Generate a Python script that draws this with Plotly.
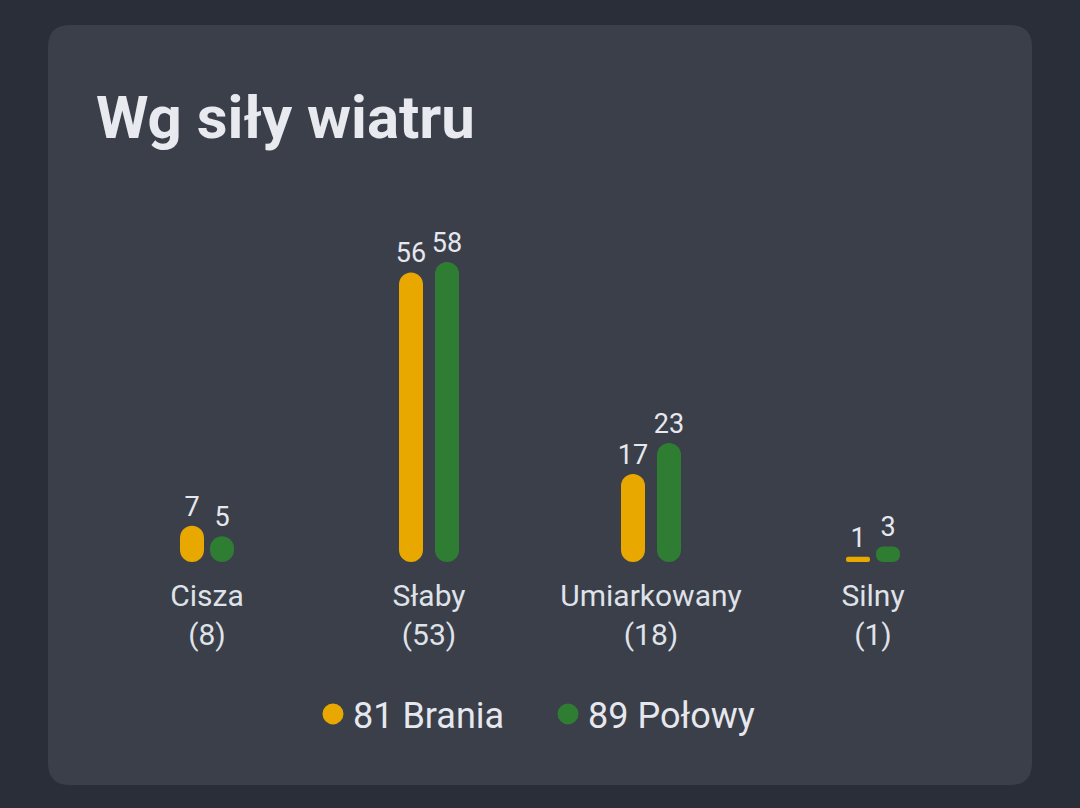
import plotly.graph_objects as go

# data
categories = ["Cisza", "Słaby", "Umiarkowany", "Silny"]
counts = [8, 53, 18, 1]
brania = [7, 56, 17, 1]
polowy = [5, 58, 23, 3]
series_names = ["81 Brania", "89 Połowy"]

YELLOW = "#e8a800"
GREEN = "#2e7d32"
CARD = "#3a3f4a"
OUTER = "#2a2e38"
TEXT = "#e6e8ee"
FONT = "Roboto"

W, H = 1080, 808
ML, MR, MT, MB = 96, 96, 200, 246
PW, PH = W - ML - MR, H - MT - MB
BAND = PW / len(categories)    # px per category
BAR_PX = 24
PAIR_GAP_PX = [6, 12, 12, 6]   # gap between the two bars of each group

tick_text = [f"{c}<br>({n})" for c, n in zip(categories, counts)]

bar_w = BAR_PX / BAND
left_off = [-(g / 2 + BAR_PX) / BAND for g in PAIR_GAP_PX]
right_off = [(g / 2) / BAND for g in PAIR_GAP_PX]

fig = go.Figure()

# base=0 given explicitly -> plotly rounds both ends of each bar
for name, vals, color, off in [(series_names[0], brania, YELLOW, left_off),
                                (series_names[1], polowy, GREEN, right_off)]:
    fig.add_trace(go.Bar(
        x=categories, y=vals, base=[0] * len(vals),
        width=bar_w, offset=off,
        marker=dict(color=color, line=dict(width=0)),
        text=[str(v) for v in vals], textposition="outside",
        constraintext="none", cliponaxis=False,
        textfont=dict(family=FONT, size=27, color=TEXT),
        showlegend=False, hoverinfo="skip",
    ))
    # legend entry with a round marker
    fig.add_trace(go.Scatter(
        x=[None], y=[None], mode="markers", name=name,
        marker=dict(symbol="circle", size=16, color=color,
                    line=dict(width=5, color=color)),
    ))

# card background as rounded rectangle (paper coords)
def px_x(p):
    return (p - ML) / PW

def px_y(p):
    return (H - MB - p) / PH

x0, x1 = px_x(48), px_x(1032)
y0, y1 = px_y(785), px_y(25)
rx, ry = 22 / PW, 22 / PH
path = (f"M {x0 + rx},{y1} L {x1 - rx},{y1} Q {x1},{y1} {x1},{y1 - ry} "
        f"L {x1},{y0 + ry} Q {x1},{y0} {x1 - rx},{y0} "
        f"L {x0 + rx},{y0} Q {x0},{y0} {x0},{y0 + ry} "
        f"L {x0},{y1 - ry} Q {x0},{y1} {x0 + rx},{y1} Z")

fig.update_layout(
    width=W, height=H,
    margin=dict(l=ML, r=MR, t=MT, b=MB),
    paper_bgcolor=OUTER, plot_bgcolor="rgba(0,0,0,0)",
    font=dict(family=FONT, color=TEXT),
    barmode="overlay",
    barcornerradius=12,
    shapes=[dict(type="path", path=path, xref="paper", yref="paper",
                 fillcolor=CARD, line=dict(width=0), layer="below")],
    title=dict(text="<b>Wg siły wiatru</b>", xref="container", yref="container",
               x=96 / W, xanchor="left", y=1 - 117 / H, yanchor="middle",
               font=dict(family=FONT, size=60, color="#e8eaf0")),
    xaxis=dict(type="category", tickvals=categories, ticktext=tick_text,
               range=[-0.5, len(categories) - 0.5],
               showgrid=False, zeroline=False, showline=False, ticks="",
               ticklabelstandoff=13,
               tickfont=dict(family=FONT, size=30, color="#dfe2e8")),
    yaxis=dict(visible=False, range=[0, 70], fixedrange=True),
    legend=dict(orientation="h", x=0.5 + 8 / PW, xanchor="center",
                y=px_y(714), yanchor="middle",
                entrywidth=190, entrywidthmode="pixels",
                font=dict(family=FONT, size=36, color=TEXT),
                bgcolor="rgba(0,0,0,0)"),
)

fig.write_html("out.html", config={"displayModeBar": False},
               post_script="document.body.style.margin='0';"
                           "document.body.style.background='#2a2e38';")
